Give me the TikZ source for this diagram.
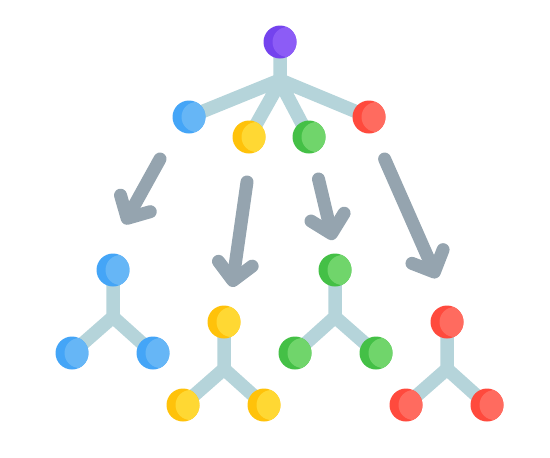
\documentclass[tikz,border=0pt]{standalone}
\usetikzlibrary{arrows.meta,backgrounds}
\definecolor{purpD}{HTML}{7443EE}\definecolor{purpL}{HTML}{8C5CF6}
\definecolor{blueD}{HTML}{44A5F7}\definecolor{blueL}{HTML}{66B6F6}
\definecolor{yelD}{HTML}{FFC20A}\definecolor{yelL}{HTML}{FFD833}
\definecolor{grnD}{HTML}{44C046}\definecolor{grnL}{HTML}{70D56B}
\definecolor{redD}{HTML}{FF4A3D}\definecolor{redL}{HTML}{FF6B5F}
\definecolor{stem}{HTML}{B5D4DA}\definecolor{arrowc}{HTML}{95A4AF}
\tikzset{dot/.style 2 args={circle,inner sep=0,minimum size=0.66cm,fill=#1,path picture={\fill[#2]([xshift=0.15cm]path picture bounding box.center)circle(0.3cm);}},
link/.style={draw=stem,line width=0.27cm},
move/.style={draw=arrowc,line width=0.26cm,line cap=round,-{Straight Barb[round,length=0.34cm,width=0.68cm]}}}

\begin{document}
\begin{tikzpicture}[x=0.02cm,y=-0.02cm]
\useasboundingbox(0,0)rectangle(550,457);
% top tree
\node[dot={purpD}{purpL}](p)at(280,42){};
\coordinate(j)at(280,80);\coordinate(k)at(280,82);
\node[dot={blueD}{blueL}](b)at(189,117){};
\node[dot={yelD}{yelL}](y)at(249,137){};
\node[dot={grnD}{grnL}](g)at(309,137){};
\node[dot={redD}{redL}](r)at(369,117){};
% lower trees
\node[dot={blueD}{blueL}](b1)at(113,270){};\coordinate(bj)at(113,317);
\node[dot={blueD}{blueL}](b2)at(72,353){};\node[dot={blueD}{blueL}](b3)at(153,353){};
\node[dot={yelD}{yelL}](y1)at(224,322){};\coordinate(yj)at(224,369);
\node[dot={yelD}{yelL}](y2)at(183,405){};\node[dot={yelD}{yelL}](y3)at(264,405){};
\node[dot={grnD}{grnL}](g1)at(335,270){};\coordinate(gj)at(335,317);
\node[dot={grnD}{grnL}](g2)at(295,353){};\node[dot={grnD}{grnL}](g3)at(376,353){};
\node[dot={redD}{redL}](r1)at(447,322){};\coordinate(rj)at(447,369);
\node[dot={redD}{redL}](r2)at(406,405){};\node[dot={redD}{redL}](r3)at(487,405){};
\begin{scope}[on background layer]
\draw[link](p.center)--(j)(b.center)--(j)--(r.center)(y.center)--(k)--(g.center);
\draw[link](b1.center)--(bj)(b2.center)--(bj)--(b3.center);
\draw[link](y1.center)--(yj)(y2.center)--(yj)--(y3.center);
\draw[link](g1.center)--(gj)(g2.center)--(gj)--(g3.center);
\draw[link](r1.center)--(rj)(r2.center)--(rj)--(r3.center);
\end{scope}
% arrows
\coordinate(a1)at(160,159);\coordinate(e1)at(124,224);
\coordinate(a2)at(247,182);\coordinate(e2)at(232,287);
\coordinate(a3)at(318.5,179);\coordinate(e3)at(333,240);
\coordinate(a4)at(384.6,159);\coordinate(e4)at(437,278);
\draw[move](a1)--(e1);\draw[move](a2)--(e2);
\draw[move](a3)--(e3);\draw[move](a4)--(e4);
\end{tikzpicture}
\end{document}
